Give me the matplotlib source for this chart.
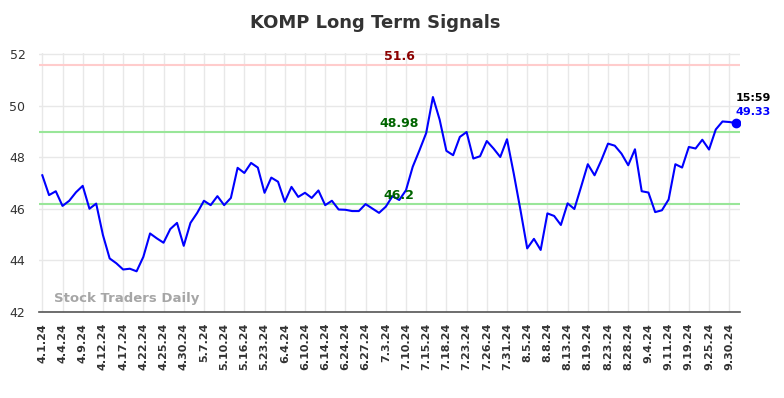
import matplotlib
matplotlib.use('Agg')
import matplotlib.pyplot as plt

# 数据
tick_labels = ['4.1.24', '4.4.24', '4.9.24', '4.12.24', '4.17.24', '4.22.24', '4.25.24',
               '4.30.24', '5.7.24', '5.10.24', '5.16.24', '5.23.24', '6.4.24', '6.10.24',
               '6.14.24', '6.24.24', '6.27.24', '7.3.24', '7.10.24', '7.15.24', '7.18.24',
               '7.23.24', '7.26.24', '7.31.24', '8.5.24', '8.8.24', '8.13.24', '8.19.24',
               '8.23.24', '8.28.24', '9.4.24', '9.11.24', '9.19.24', '9.25.24', '9.30.24']
prices = [47.30, 46.53, 46.68, 46.11, 46.31, 46.64, 46.89, 46.00, 46.20, 44.98,
          44.07, 43.88, 43.64, 43.67, 43.57, 44.13, 45.04, 44.85, 44.68, 45.21,
          45.45, 44.56, 45.45, 45.84, 46.31, 46.14, 46.49, 46.14, 46.42, 47.59,
          47.39, 47.78, 47.60, 46.62, 47.21, 47.05, 46.27, 46.85, 46.46, 46.62,
          46.42, 46.71, 46.14, 46.31, 45.97, 45.96, 45.91, 45.91, 46.18, 46.01,
          45.84, 46.08, 46.49, 46.34, 46.72, 47.63, 48.27, 48.94, 50.34, 49.46,
          48.25, 48.08, 48.79, 48.98, 47.95, 48.04, 48.63, 48.34, 48.01, 48.70,
          47.37, 45.95, 44.46, 44.83, 44.40, 45.82, 45.72, 45.37, 46.21, 45.99,
          46.85, 47.73, 47.30, 47.88, 48.53, 48.45, 48.14, 47.69, 48.31, 46.68,
          46.63, 45.87, 45.94, 46.36, 47.73, 47.60, 48.40, 48.34, 48.68, 48.30,
          49.08, 49.39, 49.37, 49.33]
resistance = 51.6
support_hi = 48.98
support_lo = 46.2
last_time = '15:59'

x = list(range(len(prices)))
tick_pos = list(range(0, len(prices), 3))[:len(tick_labels)]

fig = plt.figure(figsize=(7.84, 3.98), dpi=100)
ax = fig.add_axes([0.0501, 0.2168, 0.8938, 0.650])

# 水平信号线
ax.axhline(resistance, color='#ffcccc', lw=1.5, zorder=2)
ax.axhline(support_hi, color='#99e699', lw=1.5, zorder=2)
ax.axhline(support_lo, color='#99e699', lw=1.5, zorder=2)

ax.plot(x, prices, color='#0000ff', lw=1.5, zorder=3)
ax.plot(x[-1], prices[-1], 'o', color='#0000ff', ms=6, zorder=4)

mid = 53
ax.text(mid, resistance + 0.08, f'{resistance:g}', color='#8b0000', fontsize=9,
        fontweight='bold', ha='center', va='bottom')
ax.text(mid, support_hi + 0.08, f'{support_hi:g}', color='#006400', fontsize=9,
        fontweight='bold', ha='center', va='bottom')
ax.text(mid, support_lo + 0.08, f'{support_lo:g}', color='#006400', fontsize=9,
        fontweight='bold', ha='center', va='bottom')

ax.text(x[-1], prices[-1] + 0.42, f'{prices[-1]:.2f}', color='#0000ff', fontsize=8,
        fontweight='bold', ha='left', va='center')
ax.text(x[-1], prices[-1] + 0.97, last_time, color='black', fontsize=8,
        fontweight='bold', ha='left', va='center')

ax.text(1.8, 42.25, 'Stock Traders Daily', color='#a6a6a6', fontsize=9.5,
        fontweight='bold', ha='left', va='bottom')

ax.set_xlim(-0.45, 103.6)
ax.set_ylim(42, 52.05)
ax.set_yticks(range(42, 53, 2))
ax.set_xticks(tick_pos)
ax.set_xticklabels(tick_labels, rotation=90, fontsize=8, fontweight='bold', color='#333333')
ax.tick_params(axis='y', labelsize=9, colors='#333333', length=0, pad=10)
ax.tick_params(axis='x', length=0, pad=8)
ax.grid(True, color='#e8e8e8', lw=1)
ax.set_axisbelow(True)
for s in ['top', 'right', 'left']:
    ax.spines[s].set_visible(False)
ax.spines['bottom'].set_color('#555555')
ax.spines['bottom'].set_linewidth(1.2)

fig.suptitle('KOMP Long Term Signals', x=0.478, y=0.965, fontsize=13,
             fontweight='bold', color='#333333')

fig.savefig('out.png', dpi=100)
